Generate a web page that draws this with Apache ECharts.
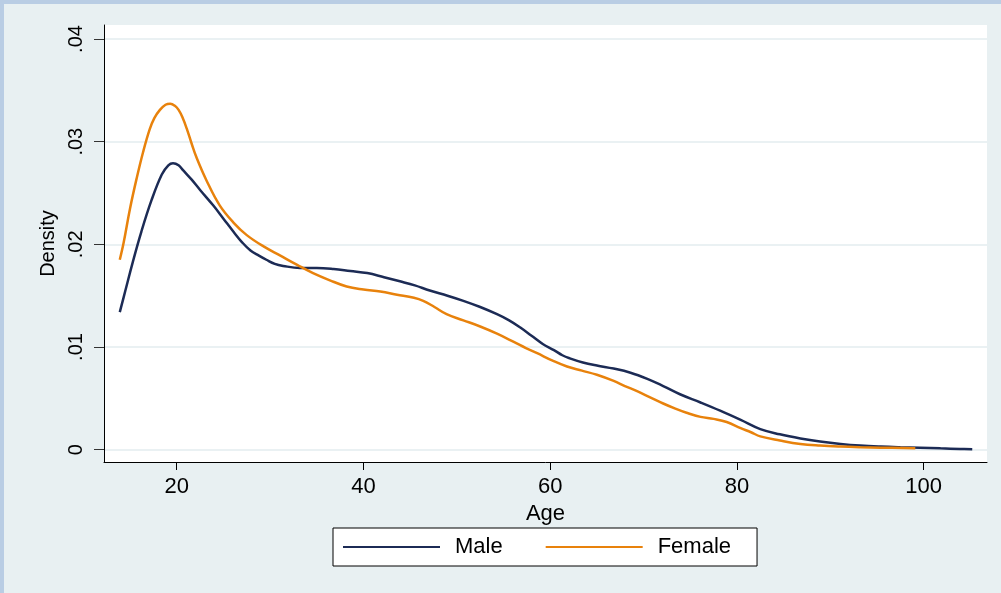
<!DOCTYPE html>
<html><head><meta charset="utf-8">
<script src="https://cdn.jsdelivr.net/npm/echarts@6/dist/echarts.min.js"></script>
<style>
html,body{margin:0;padding:0;background:#e8f0f2;}
#wrap{position:absolute;left:0;top:0;width:1001px;height:593px;background:#b9cde4;overflow:hidden;}
#chart{position:absolute;left:4px;top:4px;width:997px;height:589px;}
</style></head><body><div id="wrap"><div id="chart"></div></div>
<script>
const maleAge = [13.9,14.5,15.3,16.2,17.3,18.4,19.1,19.6,20.2,20.7,21.6,22.5,23.9,25.0,26.1,27.0,27.9,28.8,29.6,30.5,31.4,33.2,35.0,36.8,38.6,40.4,42.2,43.9,45.5,47.1,49.0,50.7,52.5,54.3,55.6,56.8,58.0,59.2,60.4,61.3,62.1,63.5,65.0,66.8,68.6,70.4,72.1,73.9,76.1,78.2,80.4,82.5,84.6,86.8,88.9,91.1,93.2,95.4,97.5,99.6,101.8,103.9,105.2];
const maleDensity = [0.0134,0.0155,0.0183,0.0212,0.0243,0.0268,0.0277,0.0279,0.0277,0.0272,0.0263,0.0253,0.0238,0.0225,0.0212,0.0202,0.0194,0.0189,0.0185,0.0181,0.0179,0.0177,0.0177,0.0176,0.0174,0.0172,0.0168,0.0164,0.0160,0.0155,0.0150,0.0145,0.0139,0.0132,0.0126,0.0119,0.0111,0.0103,0.0097,0.0092,0.0089,0.0085,0.0082,0.0079,0.0075,0.0069,0.0062,0.0054,0.0046,0.0038,0.0029,0.0020,0.0015,0.0011,0.0008,0.00056,0.0004,0.0003,0.00024,0.0002,0.00013,0.00007,0.00004];
const femaleAge = [13.9,14.3,15.0,15.7,16.4,17.1,17.6,18.2,18.8,19.3,19.8,20.2,20.6,21.1,21.6,22.1,23.2,24.6,26.1,27.5,29.3,31.1,32.9,34.6,36.4,38.2,40.0,41.8,43.6,45.4,46.4,47.6,48.9,50.7,52.5,54.3,56.1,57.4,58.6,60.2,61.8,63.4,65.0,66.8,68.0,69.3,70.7,72.1,73.4,74.6,76.1,77.5,78.9,80.4,81.5,82.5,84.6,86.8,88.9,91.1,93.2,95.4,99.1];
const femaleDensity = [0.0185,0.0201,0.0235,0.0264,0.0290,0.0312,0.0323,0.0331,0.0336,0.0337,0.0335,0.0331,0.0324,0.0312,0.0298,0.0285,0.0262,0.0238,0.0221,0.0209,0.0198,0.0189,0.0180,0.0172,0.0165,0.0159,0.0156,0.0154,0.0151,0.0148,0.0145,0.0139,0.0132,0.0126,0.0120,0.0113,0.0105,0.0099,0.0094,0.0087,0.0081,0.0077,0.0073,0.0067,0.0062,0.0057,0.0051,0.0045,0.0040,0.0036,0.0032,0.0030,0.0027,0.0021,0.0017,0.0013,0.0009,0.00056,0.0004,0.0003,0.00024,0.0002,0.00014];
const xTicks = [20,40,60,80,100];
const yTicks = [0,0.01,0.02,0.03,0.04];
const yTickLabels = ['0','.01','.02','.03','.04'];
const seriesNames = ['Male','Female'];

const FONT = '"Liberation Sans", Arial, sans-serif';
const chart = echarts.init(document.getElementById('chart'));
chart.setOption({
  backgroundColor: '#e8f0f2',
  animation: false,
  grid: {left: 100, top: 21, right: 14, bottom: 131, show: true, backgroundColor: '#ffffff', borderWidth: 0},
  xAxis: {
    type: 'value', min: 12.21, max: 106.78,
    name: 'Age', nameLocation: 'middle', nameGap: 32,
    nameTextStyle: {fontFamily: FONT, fontSize: 22, color: '#000'},
    axisLine: {show: true, onZero: false, lineStyle: {color: '#000', width: 1}},
    axisTick: {show: true, length: 8, customValues: xTicks, lineStyle: {color: '#000'}},
    axisLabel: {customValues: xTicks, margin: 14, fontFamily: FONT, fontSize: 22, color: '#000'},
    splitLine: {show: false}
  },
  yAxis: {
    type: 'value', min: -0.001198, max: 0.041364,
    name: 'Density', nameLocation: 'middle', nameGap: 46,
    nameTextStyle: {fontFamily: FONT, fontSize: 20, color: '#000'},
    axisLine: {show: true, onZero: false, lineStyle: {color: '#000', width: 1}},
    axisTick: {show: true, length: 10, customValues: yTicks, lineStyle: {color: '#333'}},
    axisLabel: {customValues: yTicks, rotate: 90, margin: 18, fontFamily: FONT, fontSize: 20, color: '#000',
      formatter: v => yTickLabels[yTicks.findIndex(t => Math.abs(t - v) < 1e-9)]},
    splitLine: {show: true, lineStyle: {color: '#eaf1f3', width: 2}}
  },
  legend: {
    data: seriesNames, left: 329, top: 524, orient: 'horizontal',
    backgroundColor: '#ffffff', borderColor: '#000', borderWidth: 1,
    padding: [8, 26, 8, 10], itemGap: 43, itemWidth: 97, itemHeight: 2, icon: 'rect',
    textStyle: {fontFamily: FONT, fontSize: 22, color: '#000', padding: [0, 0, 0, 10]}
  },
  series: [
    {name: seriesNames[0], type: 'line', symbol: 'none', smooth: 0.4,
     color: '#1c2b55', lineStyle: {color: '#1c2b55', width: 2.5},
     data: maleAge.map((a, i) => [a, maleDensity[i]])},
    {name: seriesNames[1], type: 'line', symbol: 'none', smooth: 0.4,
     color: '#e8820c', lineStyle: {color: '#e8820c', width: 2.5},
     data: femaleAge.map((a, i) => [a, femaleDensity[i]])}
  ]
});
</script></body></html>
